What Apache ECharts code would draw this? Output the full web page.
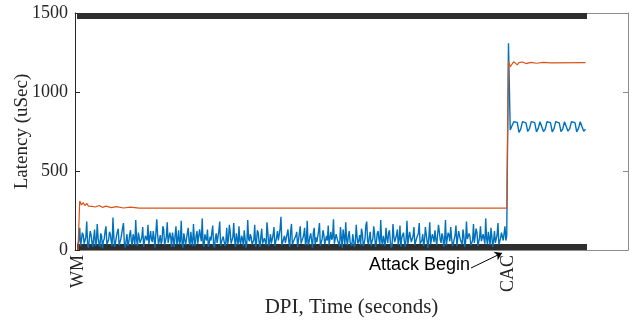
<!DOCTYPE html>
<html>
<head>
<meta charset="utf-8">
<script src="https://cdn.jsdelivr.net/npm/echarts@6/dist/echarts.min.js"></script>
<style>
  html, body { margin: 0; padding: 0; background: #fff; }
  #chart { width: 639px; height: 322px; }
</style>
</head>
<body>
<div id="chart"></div>
<script>
// Latency per sample; index 0 = WM start, index 246 = CAC (attack begins)
const sampleCount = 291;
const attackIndex = 246;

// Tick labels on the time axis
const timeLabelIndex = [0, 246];
const timeLabelText = ['WM', 'CAC'];
const latencyTicks = [0, 500, 1000, 1500];

// Blue series: latency before the attack, at whole samples (indices 0..245)
const blueBefore = [
  35, 140, 20, 95, 60, 180, 15, 120, 45, 80,
  25, 165, 40, 105, 10, 70, 150, 30, 115, 55,
  205, 20, 90, 135, 35, 60, 170, 15, 100, 45,
  125, 30, 75, 190, 25, 110, 50, 145, 20, 85,
  160, 40, 65, 120, 15, 195, 35, 95, 55, 130,
  25, 175, 45, 80, 110, 20, 150, 60, 35, 185,
  15, 100, 70, 140, 30, 55, 165, 25, 120, 40,
  90, 200, 20, 75, 130, 45, 60, 155, 15, 105,
  35, 180, 50, 85, 25, 140, 65, 115, 30, 170,
  20, 95, 150, 40, 70, 125, 15, 190, 55, 80,
  30, 160, 45, 110, 20, 135, 60, 85, 175, 25,
  100, 50, 145, 15, 120, 70, 210, 35, 90, 55,
  130, 20, 165, 40, 75, 115, 25, 150, 60, 95,
  30, 185, 45, 105, 15, 140, 80, 55, 170, 20,
  125, 35, 90, 155, 25, 65, 195, 40, 110, 50,
  145, 15, 85, 175, 30, 120, 60, 100, 20, 160,
  40, 95, 135, 25, 70, 180, 35, 115, 55, 150,
  20, 105, 65, 190, 30, 85, 140, 45, 125, 15,
  165, 50, 95, 30, 155, 75, 110, 20, 185, 40,
  120, 60, 145, 25, 90, 170, 35, 100, 55, 135,
  15, 175, 45, 80, 125, 30, 160, 65, 105, 20,
  190, 40, 95, 145, 25, 70, 155, 35, 115, 50,
  130, 20, 180, 60, 85, 30, 165, 45, 110, 25,
  150, 55, 95, 200, 35, 75, 140, 20, 120, 45,
  170, 30, 110, 60, 150, 90
];
// Blue series: latency at the half-samples between them (indices 0.5..244.5)
const blueBeforeHalf = [
  60, 25, 110, 40, 85, 30, 70, 95, 20, 130,
  45, 75, 20, 90, 55, 120, 35, 65, 100, 25,
  80, 50, 115, 30, 70, 140, 40, 60, 25, 95,
  55, 100, 30, 65, 110, 45, 80, 20, 90, 60,
  35, 120, 50, 75, 25, 100, 60, 40, 150, 30,
  85, 45, 110, 20, 70, 95, 35, 125, 55, 40,
  105, 30, 80, 50, 115, 25, 65, 90, 40, 130,
  55, 35, 100, 60, 20, 85, 110, 30, 75, 45,
  120, 25, 70, 95, 50, 35, 160, 40, 80, 60,
  105, 30, 55, 90, 25, 115, 45, 70, 100, 35,
  65, 20, 125, 50, 85, 40, 75, 30, 110, 55,
  40, 95, 25, 80, 60, 135, 30, 70, 45, 100,
  50, 115, 35, 65, 90, 20, 105, 40, 75, 140,
  55, 30, 85, 60, 110, 35, 50, 120, 25, 70,
  95, 45, 60, 30, 115, 80, 40, 100, 55, 25,
  75, 130, 35, 65, 90, 50, 25, 110, 45, 80,
  60, 30, 105, 40, 155, 55, 85, 25, 70, 100,
  45, 120, 35, 60, 90, 25, 75, 110, 50, 30,
  85, 40, 130, 65, 20, 95, 55, 70, 35, 115,
  50, 90, 30, 75, 105, 40, 60, 25, 145, 55,
  80, 35, 100, 50, 70, 20, 115, 45, 85, 60,
  30, 110, 55, 75, 40, 95, 25, 120, 65, 35,
  90, 50, 70, 105, 30, 60, 45, 135, 25, 80,
  55, 100, 40, 70, 115, 30, 85, 60, 45, 95,
  35, 75, 120, 50, 60
];
// Blue series: spike at the attack, then the oscillating plateau (indices 246..290)
const blueSpike = [1308];
const blueAfter = [
  760, 765, 812, 810, 808, 745, 765, 812, 810, 805,
  750, 768, 813, 810, 806, 748, 770, 812, 808, 750,
  765, 812, 810, 806, 748, 768, 813, 810, 805, 750,
  765, 812, 809, 752, 768, 812, 810, 806, 748, 770,
  812, 808, 752, 765
];

// Orange series: sample index and latency
const orangeX = [0, 1, 2, 3, 4, 5, 6, 7, 8, 9, 10, 12, 14, 16, 19, 22, 26, 30, 35, 245,
                 246, 247, 248, 249, 250, 251, 252, 254, 256, 259, 262, 266, 270, 290];
const orangeY = [0, 310, 285, 300, 280, 295, 278, 290, 276, 286, 272, 282, 270, 278, 268, 275, 266, 271, 265, 265,
                 1195, 1160, 1170, 1192, 1180, 1172, 1186, 1190, 1180, 1188, 1182, 1188, 1184, 1186];

// Build the blue line: whole and half samples interleaved, then the attack part
const blueData = [];
blueBefore.forEach((v, i) => {
  blueData.push([i, v]);
  if (i < blueBeforeHalf.length) blueData.push([i + 0.5, blueBeforeHalf[i]]);
});
blueSpike.concat(blueAfter).forEach((v, k) => blueData.push([attackIndex + k, v]));

const orangeData = orangeX.map((x, i) => [x, orangeY[i]]);
const sampleTicks = [];
for (let i = 0; i < sampleCount; i++) sampleTicks.push(i);

const serif = 'Liberation Serif';
const ink = '#262626';
const boxGray = '#8c8c8c';
const tickInk = '#2e2e2e';
const xMin = -1.7, xMax = 314.3;

const chart = echarts.init(document.getElementById('chart'), null, { renderer: 'canvas' });

chart.setOption({
  animation: false,
  backgroundColor: '#fff',
  grid: { left: 75, right: 11, top: 13, bottom: 72, containLabel: false, outerBoundsMode: 'none' },
  xAxis: [
    {
      type: 'value', position: 'bottom', min: xMin, max: xMax,
      name: 'DPI, Time (seconds)', nameLocation: 'middle', nameGap: 47, nameMoveOverlap: false,
      nameTextStyle: { fontFamily: serif, fontSize: 21, color: ink },
      axisLine: { show: true, onZero: false, lineStyle: { color: boxGray, width: 1 } },
      axisTick: { show: true, inside: true, length: 6, customValues: sampleTicks,
                  lineStyle: { color: tickInk, width: 2 } },
      axisLabel: { show: true, customValues: timeLabelIndex, rotate: 90, margin: 5,
                   fontFamily: serif, fontSize: 18, color: ink,
                   formatter: v => timeLabelText[timeLabelIndex.indexOf(Math.round(v))] || '' },
      splitLine: { show: false }
    },
    {
      type: 'value', position: 'top', min: xMin, max: xMax,
      axisLine: { show: true, onZero: false, lineStyle: { color: boxGray, width: 1 } },
      axisTick: { show: true, inside: true, length: 6, customValues: sampleTicks,
                  lineStyle: { color: tickInk, width: 2 } },
      axisLabel: { show: false },
      splitLine: { show: false }
    }
  ],
  yAxis: [
    {
      type: 'value', position: 'left', min: 0, max: 1500, interval: 500,
      name: 'Latency (uSec)', nameLocation: 'middle', nameGap: 43, nameMoveOverlap: false,
      nameTextStyle: { fontFamily: serif, fontSize: 19, color: ink },
      axisLine: { show: true, onZero: false, lineStyle: { color: ink, width: 1 } },
      axisTick: { show: true, inside: true, length: 5, lineStyle: { color: ink } },
      axisLabel: { fontFamily: serif, fontSize: 18, color: ink, margin: 7,
                   customValues: latencyTicks, formatter: v => String(v) },
      splitLine: { show: false }
    },
    {
      type: 'value', position: 'right', min: 0, max: 1500, interval: 500,
      axisLine: { show: true, onZero: false, lineStyle: { color: boxGray, width: 1 } },
      axisTick: { show: true, inside: true, length: 5, lineStyle: { color: boxGray } },
      axisLabel: { show: false },
      splitLine: { show: false }
    }
  ],
  series: [
    {
      name: 'blue', type: 'line', xAxisIndex: 0, yAxisIndex: 0,
      data: blueData, showSymbol: false, symbol: 'none', sampling: null,
      lineStyle: { color: '#0072BD', width: 1.4 }, z: 3
    },
    {
      name: 'orange', type: 'line', xAxisIndex: 0, yAxisIndex: 0,
      data: orangeData, showSymbol: false, symbol: 'none',
      lineStyle: { color: '#D95319', width: 1.2 }, z: 4
    },
    {
      // Annotation arrow pointing at the attack start
      name: 'arrow', type: 'lines', coordinateSystem: 'cartesian2d',
      xAxisIndex: 0, yAxisIndex: 0, clip: false, z: 6,
      symbol: ['none', 'arrow'], symbolSize: 7,
      lineStyle: { color: '#000', width: 1, opacity: 1 },
      data: [{ coords: [[224.6, -114], [242.3, -19]] }]
    }
  ]
});

// "Attack Begin" text placed at the arrow tail
const tail = chart.convertToPixel({ gridIndex: 0 }, [224.6, -114]);
chart.setOption({
  graphic: [{
    type: 'text', x: tail[0] - 1, y: tail[1] - 3,
    style: { text: 'Attack Begin', fontFamily: 'Liberation Sans', fontSize: 18,
             fill: '#000', align: 'right', verticalAlign: 'middle' },
    z: 10
  }]
});
</script>
</body>
</html>
